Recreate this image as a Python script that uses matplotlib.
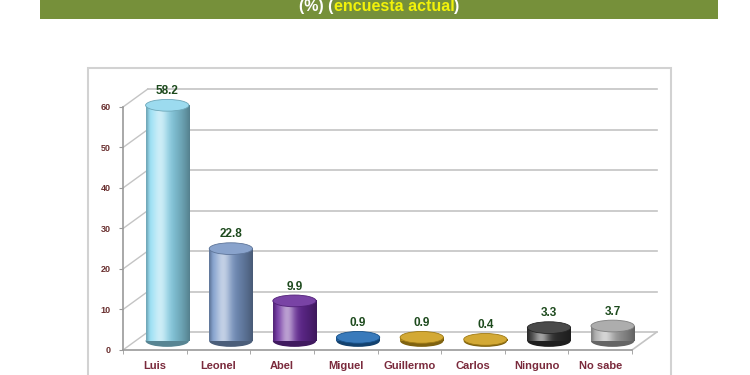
import numpy as np
import matplotlib.pyplot as plt
from matplotlib.patches import Ellipse, Rectangle

plt.rcParams['font.family'] = ['Liberation Sans', 'DejaVu Sans']

# data
categories = ["Luis", "Leonel", "Abel", "Miguel",
              "Guillermo", "Carlos", "Ninguno", "No sabe"]
values = [58.2, 22.8, 9.9, 0.9, 0.9, 0.4, 3.3, 3.7]
bar_colors = ["#93def5", "#7d9ccc", "#6a2b9e", "#1f6cb8",
              "#d4a31a", "#d4a31a", "#333333", "#a8a8a8"]
yticks = [0, 10, 20, 30, 40, 50, 60]

fig = plt.figure(figsize=(7.5, 3.75), dpi=100)
fig.patch.set_facecolor("white")

# green banner on top
fig.patches.append(Rectangle((0.0533, 0.949), 0.904, 0.06, transform=fig.transFigure,
                             facecolor="#76903a", edgecolor="none", zorder=-2))
# chart frame
fig.patches.append(Rectangle((0.1173, -0.1), 0.7774, 0.9187, transform=fig.transFigure,
                             facecolor="none", edgecolor="#d2d2d2", lw=1.5, zorder=-2))

# title in two colours
renderer = fig.canvas.get_renderer()
parts = [("(%) (", "white"), ("encuesta actual", "#f2f20a"), (")", "white")]
widths = []
for s, c in parts:
    t = fig.text(0, 0, s, fontsize=11.5, fontweight="bold")
    widths.append(t.get_window_extent(renderer).width / fig.bbox.width)
    t.remove()
x0 = 0.506 - sum(widths) / 2
for (s, c), w in zip(parts, widths):
    fig.text(x0, 0.983, s, color=c, fontsize=11.5, fontweight="bold", va="center", ha="left")
    x0 += w

ax = fig.add_axes([0.164, 0.0667, 0.6787, 0.648])
ax.set_facecolor("none")
n = len(values)
dx, dy = 0.39, 4.44  # 3D depth offset
grid_c = "#c4c4c4"

# back wall gridlines and left wall
for v in yticks:
    ax.plot([-0.5 + dx, n - 0.5 + dx], [v + dy, v + dy], color=grid_c, lw=1.2,
            clip_on=False, zorder=1)
    ax.plot([-0.5, -0.5 + dx], [v, v + dy], color=grid_c, lw=1.0, clip_on=False, zorder=1)
# floor
ax.plot([n - 0.5, n - 0.5 + dx], [0, dy], color=grid_c, lw=1.2, clip_on=False, zorder=1)

# cylinders
w = 0.68
e = 2.9
t = np.linspace(0, 1, 64)
light = 0.55 * np.exp(-((t - 0.32) / 0.18) ** 2)
dark = 0.42 * t ** 2.2 + 0.25 * np.exp(-(t / 0.06) ** 2)
for i, (v, c) in enumerate(zip(values, bar_colors)):
    base = np.array(plt.matplotlib.colors.to_rgb(c))
    xc = i + dx / 2
    yb = dy / 2
    dark_c = base * 0.6
    ax.add_patch(Ellipse((xc, yb), w, e, facecolor=dark_c, edgecolor="none",
                         zorder=3, clip_on=False))
    col = base[None, :] * (1 - dark[:, None]) * (1 - light[:, None]) + light[:, None]
    img = np.clip(col, 0, 1)[None, :, :]
    ax.imshow(img, extent=(xc - w / 2, xc + w / 2, yb, yb + v), aspect="auto",
              zorder=4, clip_on=False, interpolation="bilinear")
    top_c = np.clip(base * 0.85 + 0.12, 0, 1)
    ax.add_patch(Ellipse((xc, yb + v), w, e, facecolor=top_c, edgecolor=base * 0.75,
                         lw=0.6, zorder=5, clip_on=False))
    ax.text(xc, yb + v + e / 2 + 0.6, f"{v:.1f}", ha="center", va="bottom",
            fontsize=8.5, fontweight="bold", color="#1d4a1d", zorder=6)

ax.set_xlim(-0.5, n - 0.5)
ax.set_ylim(0, 60)

# axes styling
for s in ["top", "right"]:
    ax.spines[s].set_visible(False)
ax.spines["left"].set_color("#9a9a9a")
ax.spines["bottom"].set_color("#9a9a9a")
ax.spines["left"].set_linewidth(1.2)
ax.spines["bottom"].set_linewidth(1.2)
ax.set_yticks(yticks)
ax.set_yticklabels([str(v) for v in yticks], fontsize=6.5, fontweight="bold", color="#6a3030")
ax.tick_params(axis="y", length=3, color="#9a9a9a", pad=6)
ax.set_xticks(np.arange(n))
ax.set_xticklabels(categories, fontsize=8, fontweight="bold", color="#7a2a3c")
ax.tick_params(axis="x", length=0, pad=8)
ax.set_xticks(np.arange(n + 1) - 0.5, minor=True)
ax.tick_params(axis="x", which="minor", length=3, color="#9a9a9a")

fig.savefig("out.png", dpi=100)
